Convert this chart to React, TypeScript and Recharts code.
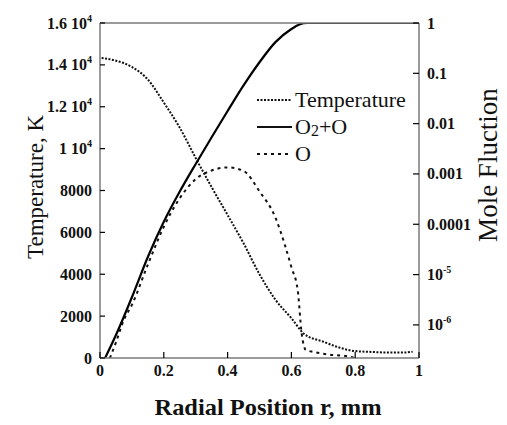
import React from "react";
import { ComposedChart, Line, XAxis, YAxis } from "recharts";

// radial position (mm) and values
const tempR = [0.005, 0.05, 0.1, 0.15, 0.2, 0.25, 0.3, 0.35, 0.4, 0.45, 0.5, 0.55, 0.6, 0.64, 0.7, 0.75, 0.8, 0.85, 0.9, 0.95, 0.98];
const tempK = [14330, 14200, 13900, 13300, 12200, 11000, 9550, 8160, 6830, 5480, 4000, 2780, 1900, 1150, 780, 500, 330, 290, 260, 260, 300];

const o2oR = [0.016, 0.05, 0.1, 0.15, 0.2, 0.25, 0.3, 0.35, 0.4, 0.45, 0.5, 0.55, 0.6, 0.625, 0.65, 0.8, 1.0];
const o2oFrac = [2.2e-7, 6.3e-7, 3.55e-6, 2.24e-5, 1.12e-4, 4.47e-4, 1.58e-3, 5.37e-3, 0.0178, 0.0575, 0.166, 0.417, 0.759, 0.933, 1, 1, 1];

const oR = [0.031, 0.05, 0.075, 0.1, 0.15, 0.2, 0.25, 0.3, 0.35, 0.4, 0.45, 0.5, 0.55, 0.58, 0.6, 0.62, 0.632, 0.645, 0.67, 0.72, 0.77, 0.8];
const oFrac = [2.2e-7, 4.5e-7, 1.26e-6, 2.5e-6, 1.58e-5, 8.9e-5, 3.3e-4, 7.9e-4, 1.17e-3, 1.35e-3, 1.15e-3, 4.5e-4, 1.35e-4, 3.8e-5, 1.4e-5, 4.8e-6, 6.9e-7, 3.2e-7, 2.9e-7, 2.57e-7, 2.4e-7, 2.2e-7];

const xTicks = [0, 0.2, 0.4, 0.6, 0.8, 1];
const xTickLabels = ["0", "0.2", "0.4", "0.6", "0.8", "1"];
const tempTicks = [0, 2000, 4000, 6000, 8000, 10000, 12000, 14000, 16000];
const tempTickLabels = ["0", "2000", "4000", "6000", "8000", "1 10^4", "1.2 10^4", "1.4 10^4", "1.6 10^4"];
const fracTicks = [1e-6, 1e-5, 1e-4, 1e-3, 0.01, 0.1, 1];
const fracTickLabels = ["10^-6", "10^-5", "0.0001", "0.001", "0.01", "0.1", "1"];

const tempData = tempR.map((r, i) => ({ r, v: tempK[i] }));
const o2oData = o2oR.map((r, i) => ({ r, v: o2oFrac[i] }));
const oData = oR.map((r, i) => ({ r, v: oFrac[i] }));

const serif = "'Liberation Serif', 'Times New Roman', serif";
const frame = "#7a7a7a";

function labelFor(ticks: number[], labels: string[], v: number) {
  const i = ticks.findIndex((t) => Math.abs(t - v) <= Math.abs(v) * 1e-6 + 1e-12);
  return i >= 0 ? labels[i] : String(v);
}

function TickText({ x, y, text, anchor }: any) {
  const [base, exp] = text.split("^");
  return (
    <text x={x} y={y} textAnchor={anchor} fontFamily={serif} fontWeight="bold" fontSize={16} fill="#111">
      {base}
      {exp && (
        <tspan dy={-7} fontSize={10}>
          {exp}
        </tspan>
      )}
    </text>
  );
}

const LeftTick = ({ x, y, payload }: any) => (
  <g>
    <line x1={x + 8} x2={x + 13} y1={y} y2={y} stroke="#000" strokeWidth={1.2} />
    <TickText x={x} y={y + 5.5} anchor="end" text={labelFor(tempTicks, tempTickLabels, payload.value)} />
  </g>
);

const RightTick = ({ x, y, payload }: any) => (
  <g>
    <line x1={x - 8} x2={x - 14} y1={y} y2={y} stroke="#000" strokeWidth={1.2} />
    <TickText x={x} y={y + 5.5} anchor="start" text={labelFor(fracTicks, fracTickLabels, payload.value)} />
  </g>
);

const BottomTick = ({ x, y, payload }: any) => (
  <g>
    <line x1={x} x2={x} y1={y - 8} y2={y - 14} stroke="#000" strokeWidth={1.2} />
    <TickText x={x} y={y + 10} anchor="middle" text={labelFor(xTicks, xTickLabels, payload.value)} />
  </g>
);

const TopTick = ({ x, y }: any) => <line x1={x} x2={x} y1={y} y2={y + 6} stroke="#000" strokeWidth={1.2} />;

const legendItems = [
  { name: "Temperature", dash: "2 1.5" },
  { name: "O2+O", dash: "" },
  { name: "O", dash: "3 4" },
];

function LegendName({ name }: { name: string }) {
  if (name === "O2+O") {
    return (
      <span>
        O<span style={{ fontSize: 16, position: "relative", top: 2 }}>2</span>+O
      </span>
    );
  }
  return <span>{name}</span>;
}

export default function App() {
  return (
    <div style={{ position: "absolute", left: 0, top: 0, width: 507, height: 425, background: "#fff" }}>
      <ComposedChart width={507} height={425} margin={{ top: 0, right: 0, bottom: 0, left: 0 }}>
        <XAxis
          xAxisId="bottom"
          dataKey="r"
          type="number"
          domain={[0, 1]}
          ticks={xTicks}
          height={67}
          tickSize={0}
          tickMargin={8}
          tickLine={false}
          axisLine={{ stroke: frame, strokeWidth: 1.5 }}
          tick={<BottomTick />}
          interval={0}
          label={{
            content: () => (
              <text x={268} y={415} textAnchor="middle" fontFamily={serif} fontWeight="bold" fontSize={24} fill="#111" textLength={227} lengthAdjust="spacingAndGlyphs">
                Radial Position r, mm
              </text>
            ),
          }}
        />
        <XAxis
          xAxisId="top"
          orientation="top"
          type="number"
          domain={[0, 1]}
          ticks={[0.2, 0.4, 0.6, 0.8]}
          height={23}
          tickSize={0}
          tickMargin={0}
          tickLine={false}
          axisLine={{ stroke: frame, strokeWidth: 1.5 }}
          tick={<TopTick />}
          interval={0}
        />
        <YAxis
          yAxisId="temp"
          type="number"
          domain={[0, 16000]}
          ticks={tempTicks}
          width={100}
          tickSize={0}
          tickMargin={8}
          tickLine={false}
          axisLine={{ stroke: frame, strokeWidth: 1.5 }}
          tick={<LeftTick />}
          interval={0}
          label={{
            content: () => (
              <text x={43} y={187} transform="rotate(-90 43 187)" textAnchor="middle" fontFamily={serif} fontSize={23} fill="#111">
                Temperature, K
              </text>
            ),
          }}
        />
        <YAxis
          yAxisId="frac"
          orientation="right"
          scale="log"
          type="number"
          domain={[2.2e-7, 1]}
          allowDataOverflow
          ticks={fracTicks}
          width={88}
          tickSize={0}
          tickMargin={8}
          tickLine={false}
          axisLine={{ stroke: frame, strokeWidth: 1.5 }}
          tick={<RightTick />}
          interval={0}
          label={{
            content: () => (
              <text x={497} y={165} transform="rotate(-90 497 165)" textAnchor="middle" fontFamily={serif} fontSize={27} fill="#111">
                Mole Fluction
              </text>
            ),
          }}
        />
        <Line
          xAxisId="bottom"
          yAxisId="temp"
          data={tempData}
          dataKey="v"
          type="monotone"
          stroke="#111"
          strokeWidth={2}
          strokeDasharray="2 1.5"
          dot={false}
          isAnimationActive={false}
        />
        <Line
          xAxisId="bottom"
          yAxisId="frac"
          data={o2oData}
          dataKey="v"
          type="monotone"
          stroke="#000"
          strokeWidth={2.2}
          dot={false}
          isAnimationActive={false}
        />
        <Line
          xAxisId="bottom"
          yAxisId="frac"
          data={oData}
          dataKey="v"
          type="monotone"
          stroke="#111"
          strokeWidth={2}
          strokeDasharray="3 4"
          dot={false}
          isAnimationActive={false}
        />
      </ComposedChart>

      {/* legend inside the plot, upper right */}
      <div style={{ position: "absolute", left: 257, top: 86, fontFamily: serif, fontSize: 22, color: "#111" }}>
        {legendItems.map((it) => (
          <div key={it.name} style={{ display: "flex", alignItems: "center", height: 27 }}>
            <svg width={36} height={4} style={{ marginRight: 2 }}>
              <line x1={0} x2={35} y1={2} y2={2} stroke="#111" strokeWidth={2} strokeDasharray={it.dash || undefined} />
            </svg>
            <LegendName name={it.name} />
          </div>
        ))}
      </div>
    </div>
  );
}
